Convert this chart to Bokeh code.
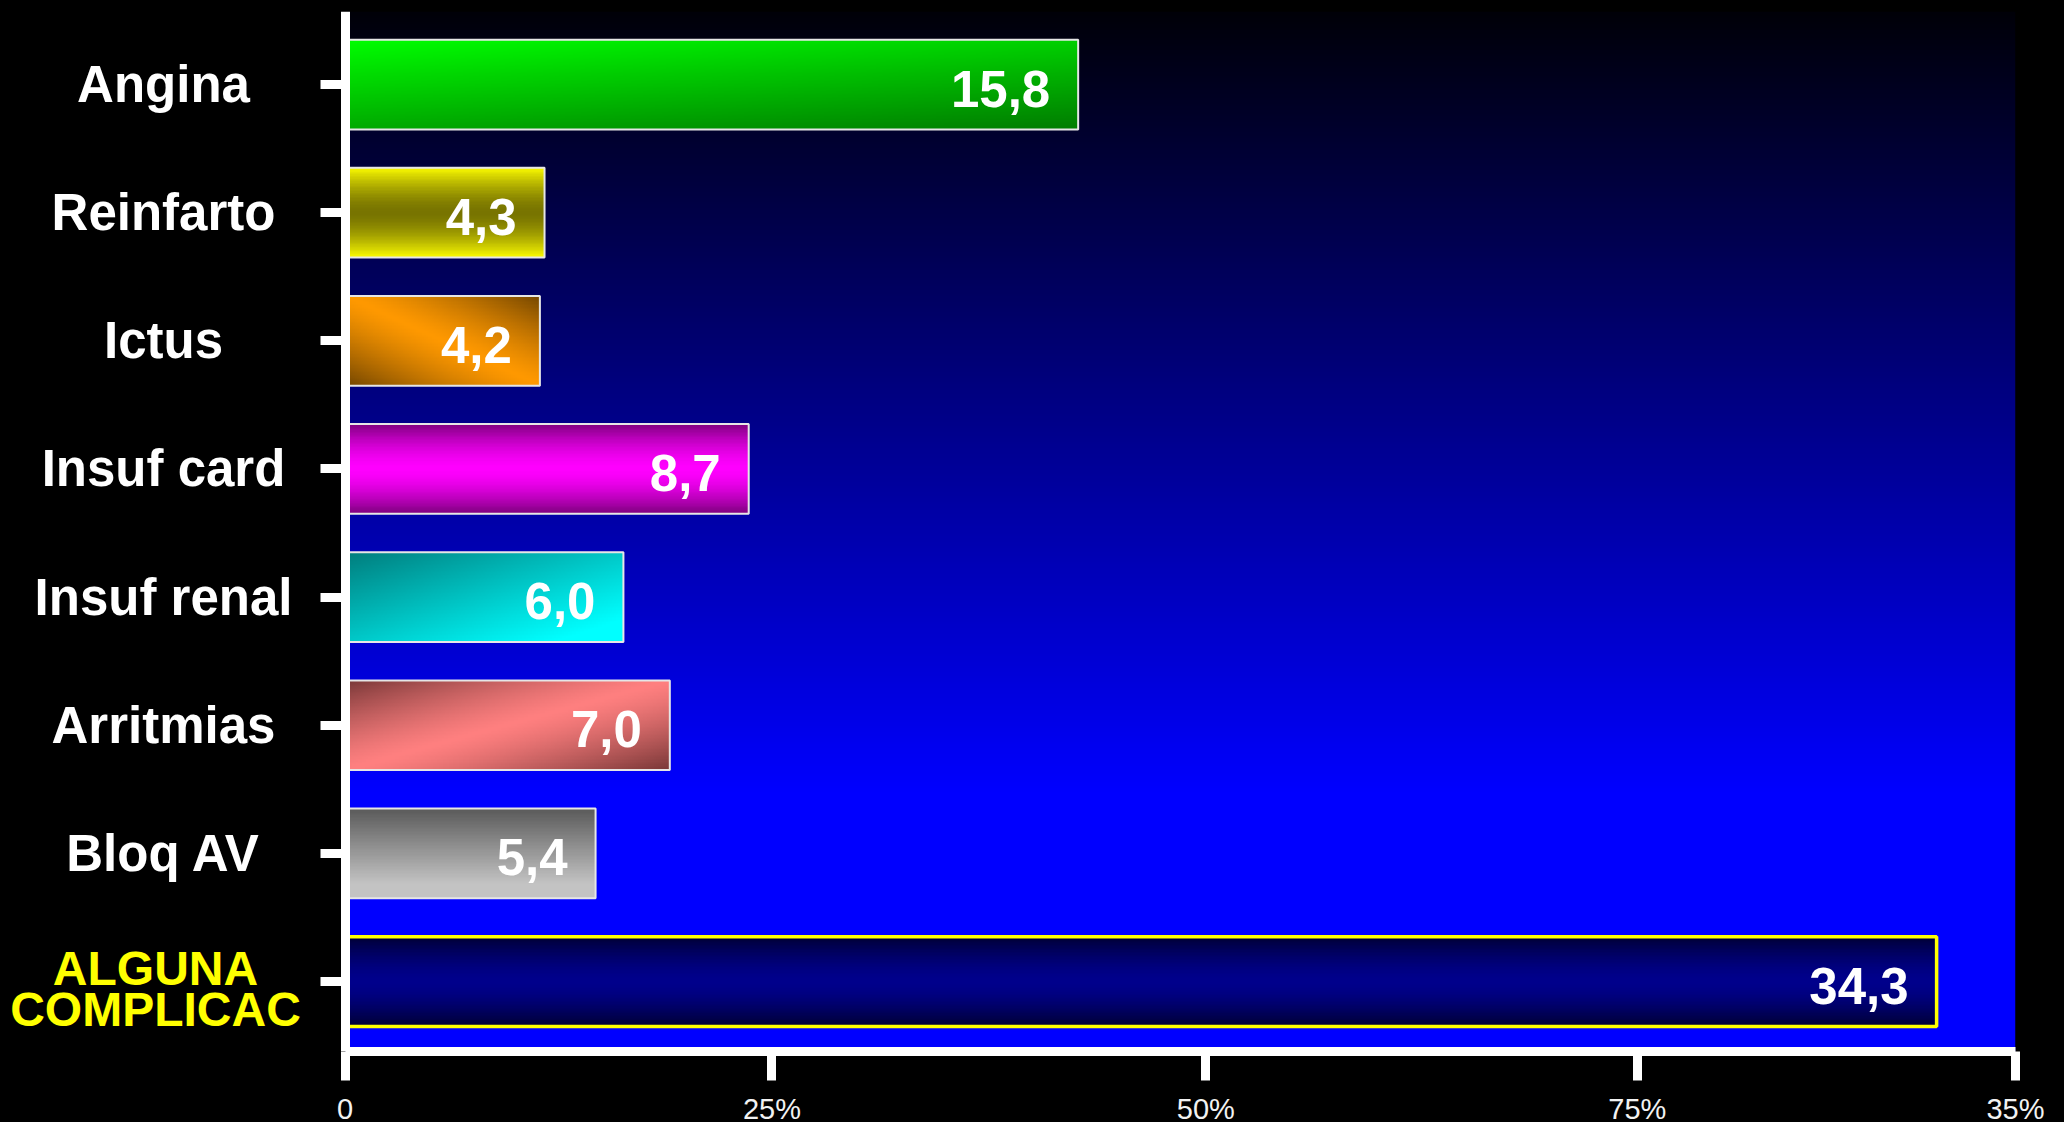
import numpy as np
from bokeh.plotting import figure
from bokeh.models import Range1d, FixedTicker, LinearAxis
from bokeh.core.properties import value
from bokeh.embed import file_html
from bokeh.resources import INLINE

# ---------------- data ----------------
categories = ["Angina", "Reinfarto", "Ictus", "Insuf card", "Insuf renal",
              "Arritmias", "Bloq AV", "ALGUNA COMPLICAC"]
values = [15.8, 4.3, 4.2, 8.7, 6.0, 7.0, 5.4, 34.3]
x_ticks = [0, 9.2, 18.55, 27.85, 36]
x_tick_labels = ["0", "25%", "50%", "75%", "35%"]
x_max = 36

# ---------------- styles ----------------
grad_specs = [
    ("diag_tl_br", (0, 255, 0), (0, 125, 0)),
    ("mirror_v", (255, 255, 0), (120, 116, 0)),
    ("diag_band_main", (255, 153, 0), (115, 70, 0)),
    ("mirror_v", (125, 0, 125), (255, 0, 255)),
    ("diag_sum", (0, 125, 125), (0, 255, 255)),
    ("diag_band_anti", (255, 128, 128), (120, 55, 55)),
    ("vertical", (90, 90, 90), (195, 195, 195)),
    ("mirror_v", (0, 0, 50), (0, 0, 140)),
]
outline_colors = ["#e6e6e6"] * 7 + ["#ffff00"]
outline_widths = [2] * 7 + [3.5]
label_colors = ["white"] * 7 + ["#ffff00"]

AXIS_PX, RIGHT_PX = 344.5, 2015          # screen x of value 0 and of value x_max
FRAME_H = 1040
px_per_x = (RIGHT_PX - AXIS_PX) / x_max
x_lo = -AXIS_PX / px_per_x
n = len(categories)
ys = [n - 1 - i for i in range(n)]
y_lo, y_hi = -0.546, 7.57
px_per_y = FRAME_H / (y_hi - y_lo)
bar_h = 0.70


def to_rgba(rgb):
    h, w, _ = rgb.shape
    img = np.empty((h, w), dtype=np.uint32)
    view = img.view(dtype=np.uint8).reshape((h, w, 4))
    view[..., :3] = np.clip(rgb, 0, 255).astype(np.uint8)
    view[..., 3] = 255
    return img


def grad_image(kind, c1, c2, w, h=64):
    tv = 1 - (np.arange(h) + 0.5) / h      # 0 = top, 1 = bottom
    th = (np.arange(w) + 0.5) / w          # 0 = left, 1 = right
    TH, TV = np.meshgrid(th, tv)
    if kind == "diag_tl_br":
        s = 0.65 * TV + 0.35 * TH
    elif kind == "mirror_v":
        s = 1 - np.abs(2 * TV - 1) ** 1.6
    elif kind == "diag_band_main":
        s = np.abs(TH - TV) ** 1.3
    elif kind == "diag_sum":
        s = np.clip((TH + TV) / 2 * 1.15, 0, 1)
    elif kind == "diag_band_anti":
        s = np.abs(TH + TV - 1) ** 1.3
    else:
        s = np.clip(TV * 1.2, 0, 1)
    c1 = np.array(c1, float)
    c2 = np.array(c2, float)
    return to_rgba(c1 + (c2 - c1) * s[..., None])


p = figure(frame_width=RIGHT_PX, frame_height=FRAME_H,
           x_range=Range1d(x_lo, x_max), y_range=Range1d(y_lo, y_hi),
           y_axis_location=None,
           output_backend="svg", toolbar_location=None,
           min_border_left=0, min_border_right=49,
           min_border_top=11, min_border_bottom=71,
           background_fill_color="black", border_fill_color="black")
p.outline_line_color = None
p.styles = {"background-color": "black"}
p.grid.visible = False

# background gradient (black at top -> blue lower down)
R = 520
rows = np.arange(R)
y_screen = 11 + FRAME_H - (rows + 0.5) / R * FRAME_H
blue = 8 + 247 * np.clip((y_screen - 11) / 780.0, 0, 1)
bg = np.zeros((R, 2, 3))
bg[..., 2] = blue[:, None]
p.image_rgba(image=[to_rgba(bg)], x=0, y=y_lo, dw=x_max, dh=y_hi - y_lo)

# gradient bars
for v, yc, (kind, c1, c2) in zip(values, ys, grad_specs):
    w = max(16, int(v * px_per_x / 2))
    p.image_rgba(image=[grad_image(kind, c1, c2, w)], x=0,
                 y=yc - bar_h / 2, dw=v, dh=bar_h)

# bar outlines
p.hbar(y=ys, left=0, right=values, height=bar_h, fill_color=None,
       line_color=outline_colors, line_width=outline_widths)

# value labels
p.text(x=values, y=ys, text=[f"{v:.1f}".replace(".", ",") for v in values],
       x_offset=-28, y_offset=4, text_align="right", text_baseline="middle",
       text_color="white", text_font=value("Liberation Sans"),
       text_font_style="bold", text_font_size="51px")

# category labels, centred left of the axis
label_x = -(AXIS_PX - 163) / px_per_x
line_gap = 41 / px_per_y
lx, ly, lt, lc, ls, lo = [], [], [], [], [], []
for cat, yc, col in zip(categories, ys, label_colors):
    lines = cat.split(" ") if cat.isupper() else [cat]
    k = len(lines)
    shift = -0.06 if k > 1 else 0
    for i, ln in enumerate(lines):
        lx.append(label_x)
        ly.append(yc + shift + (k - 1) / 2 * line_gap - i * line_gap)
        lt.append(ln)
        lc.append(col)
        ls.append("51px" if k == 1 else "48px")
        lo.append(0 if k == 1 else -8)
p.text(x=lx, y=ly, text=lt, text_color=lc, text_font_size=ls, x_offset=lo,
       text_align="center", text_baseline="middle",
       text_font=value("Liberation Sans"), text_font_style="bold")

# x axis (only spans the value range)
xa = p.xaxis[0]
xa.bounds = (0, x_max)
xa.ticker = FixedTicker(ticks=x_ticks)
xa.major_label_overrides = dict(zip(x_ticks, x_tick_labels))
xa.axis_line_color = "white"
xa.axis_line_width = 9
xa.major_tick_line_color = "white"
xa.major_tick_line_width = 9
xa.major_tick_out = 29
xa.major_tick_in = 0
xa.minor_tick_line_color = None
xa.major_label_standoff = 12
xa.major_label_text_color = "#f2f2f2"
xa.major_label_text_font = "Liberation Sans"
xa.major_label_text_font_size = "29px"

# category axis fixed at value 0, ticks pointing left
ya = LinearAxis(fixed_location=0, ticker=FixedTicker(ticks=ys),
                major_label_overrides={y: "" for y in ys},
                axis_line_color="white", axis_line_width=9,
                major_tick_line_color="white", major_tick_line_width=9,
                major_tick_out=0, major_tick_in=25, major_label_standoff=0,
                minor_tick_line_color=None, bounds=(y_lo, y_hi + 0.02))
p.add_layout(ya, "right")

open("out.html", "w").write(file_html(p, INLINE))
